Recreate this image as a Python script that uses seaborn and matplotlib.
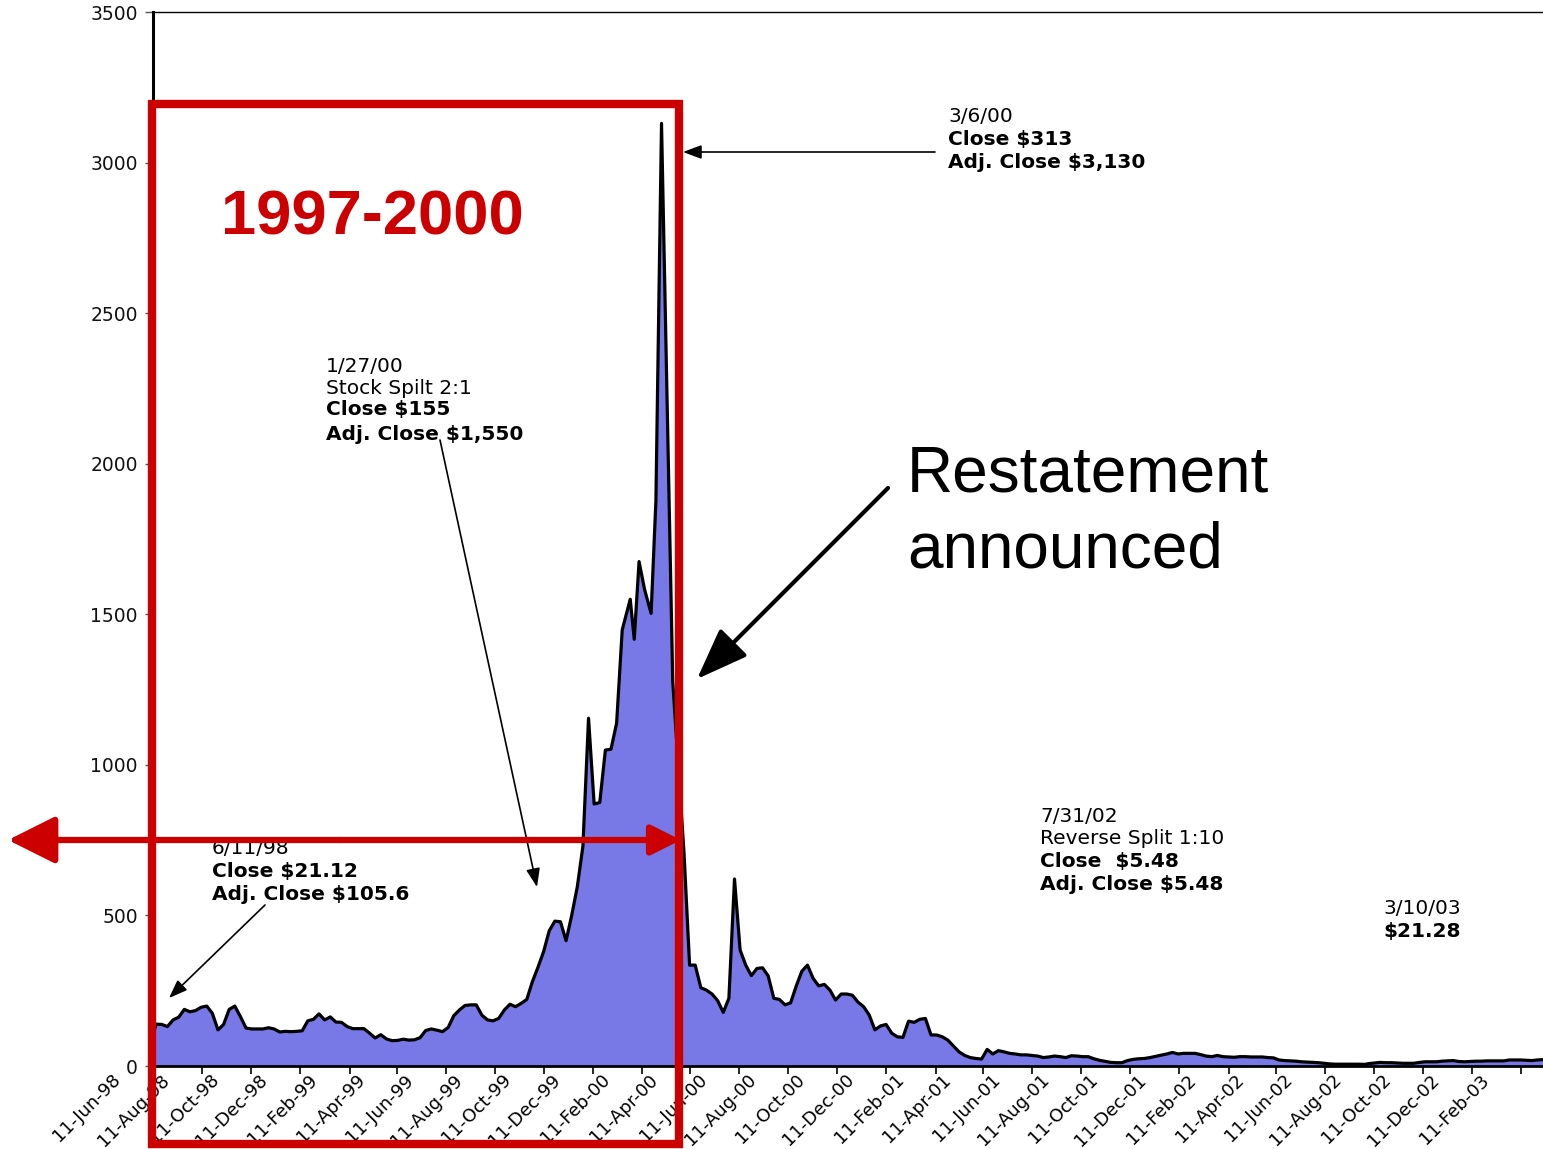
import matplotlib
matplotlib.use("Agg")
import matplotlib.pyplot as plt
import matplotlib.dates as mdates
import matplotlib.transforms as mtransforms
from matplotlib.patches import Rectangle
import pandas as pd
import seaborn as sns

# Weekly adjusted close (split-adjusted), June 1998 - March 2003
dates = [
    "1998-06-11", "1998-06-15", "1998-06-22", "1998-06-29", "1998-07-06", "1998-07-13",
    "1998-07-20", "1998-07-27", "1998-08-03", "1998-08-10", "1998-08-17", "1998-08-24",
    "1998-08-31", "1998-09-07", "1998-09-14", "1998-09-21", "1998-09-28", "1998-10-05",
    "1998-10-12", "1998-10-19", "1998-10-26", "1998-11-02", "1998-11-09", "1998-11-16",
    "1998-11-23", "1998-11-30", "1998-12-07", "1998-12-14", "1998-12-21", "1998-12-28",
    "1999-01-04", "1999-01-11", "1999-01-18", "1999-01-25", "1999-02-01", "1999-02-08",
    "1999-02-15", "1999-02-22", "1999-03-01", "1999-03-08", "1999-03-15", "1999-03-22",
    "1999-03-29", "1999-04-05", "1999-04-12", "1999-04-19", "1999-04-26", "1999-05-03",
    "1999-05-10", "1999-05-17", "1999-05-24", "1999-05-31", "1999-06-07", "1999-06-14",
    "1999-06-21", "1999-06-28", "1999-07-05", "1999-07-12", "1999-07-19", "1999-07-26",
    "1999-08-02", "1999-08-09", "1999-08-16", "1999-08-23", "1999-08-30", "1999-09-06",
    "1999-09-13", "1999-09-20", "1999-09-27", "1999-10-04", "1999-10-11", "1999-10-18",
    "1999-10-25", "1999-11-01", "1999-11-08", "1999-11-15", "1999-11-22", "1999-11-29",
    "1999-12-06", "1999-12-13", "1999-12-20", "1999-12-27", "2000-01-03", "2000-01-10",
    "2000-01-17", "2000-01-27", "2000-02-01", "2000-02-07", "2000-02-14", "2000-02-22",
    "2000-02-28", "2000-03-06", "2000-03-20", "2000-04-03", "2000-04-10", "2000-04-17",
    "2000-04-24", "2000-05-01", "2000-05-08", "2000-05-15", "2000-05-22", "2000-05-29",
    "2000-06-05", "2000-06-12", "2000-06-19", "2000-06-26", "2000-07-03", "2000-07-10",
    "2000-07-17", "2000-07-24", "2000-07-31", "2000-08-07", "2000-08-14", "2000-08-21",
    "2000-08-28", "2000-09-04", "2000-09-11", "2000-09-18", "2000-09-25", "2000-10-02",
    "2000-10-09", "2000-10-16", "2000-10-23", "2000-10-30", "2000-11-06", "2000-11-13",
    "2000-11-20", "2000-11-27", "2000-12-04", "2000-12-11", "2000-12-18", "2000-12-25",
    "2001-01-01", "2001-01-08", "2001-01-15", "2001-01-22", "2001-01-29", "2001-02-05",
    "2001-02-12", "2001-02-19", "2001-02-26", "2001-03-05", "2001-03-12", "2001-03-19",
    "2001-03-26", "2001-04-02", "2001-04-09", "2001-04-16", "2001-04-23", "2001-04-30",
    "2001-05-07", "2001-05-14", "2001-05-21", "2001-05-28", "2001-06-04", "2001-06-11",
    "2001-06-18", "2001-06-25", "2001-07-02", "2001-07-09", "2001-07-16", "2001-07-23",
    "2001-07-30", "2001-08-06", "2001-08-13", "2001-08-20", "2001-08-27", "2001-09-03",
    "2001-09-17", "2001-09-24", "2001-10-01", "2001-10-08", "2001-10-15", "2001-10-22",
    "2001-10-29", "2001-11-05", "2001-11-12", "2001-11-19", "2001-11-26", "2001-12-03",
    "2001-12-10", "2001-12-17", "2001-12-24", "2001-12-31", "2002-01-07", "2002-01-14",
    "2002-01-21", "2002-01-28", "2002-02-04", "2002-02-11", "2002-02-18", "2002-02-25",
    "2002-03-04", "2002-03-11", "2002-03-18", "2002-03-25", "2002-04-01", "2002-04-08",
    "2002-04-15", "2002-04-22", "2002-04-29", "2002-05-06", "2002-05-13", "2002-05-20",
    "2002-05-27", "2002-06-03", "2002-06-10", "2002-06-17", "2002-06-24", "2002-07-01",
    "2002-07-08", "2002-07-15", "2002-07-22", "2002-07-31", "2002-08-05", "2002-08-12",
    "2002-08-19", "2002-08-26", "2002-09-02", "2002-09-09", "2002-09-16", "2002-09-23",
    "2002-09-30", "2002-10-07", "2002-10-14", "2002-10-21", "2002-10-28", "2002-11-04",
    "2002-11-11", "2002-11-18", "2002-11-25", "2002-12-02", "2002-12-09", "2002-12-16",
    "2002-12-23", "2002-12-30", "2003-01-06", "2003-01-13", "2003-01-20", "2003-01-27",
    "2003-02-03", "2003-02-10", "2003-02-17", "2003-02-24", "2003-03-03", "2003-03-10",
]
adj_close = [
    105.6, 139, 138, 131, 153, 162,
    188, 180, 184, 195, 199, 175,
    120, 138, 188, 199, 164, 126,
    123, 123, 123, 127, 123, 113,
    115, 114, 115, 117, 150, 155,
    173, 153, 163, 146, 145, 131,
    124, 124, 124, 109, 93, 104,
    90, 84, 85, 89, 86, 87,
    94, 118, 123, 119, 114, 128,
    167, 186, 201, 203, 203, 169,
    153, 150, 158, 186, 205, 197,
    208, 221, 280, 328, 380, 449,
    481, 479, 416, 500, 595, 730,
    1155, 870, 875, 1049, 1052, 1138,
    1448, 1550, 1417, 1675, 1581, 1503,
    1876, 3130, 1276, 710, 335, 335,
    260, 252, 239, 217, 178, 225,
    621, 385, 335, 300, 324, 326,
    299, 225, 221, 203, 210, 266,
    315, 335, 291, 266, 271, 252,
    219, 239, 239, 235, 212, 197,
    169, 120, 133, 138, 109, 97,
    95, 149, 145, 155, 158, 103,
    103, 97, 86, 66, 47, 35,
    28, 25, 23, 55, 40, 51,
    47, 42, 40, 37, 37, 35,
    33, 28, 30, 33, 31, 28,
    34, 33, 31, 31, 24, 19,
    12, 11, 11, 18, 22, 24,
    25, 28, 32, 36, 40, 45,
    40, 42, 42, 42, 38, 33,
    31, 35, 31, 30, 29, 31,
    31, 30, 30, 30, 28, 27,
    20, 18, 17, 16, 14, 13,
    12, 11, 9, 7, 6, 6,
    6, 6, 6, 5.48, 8, 10,
    12, 11, 11, 10, 9, 9,
    9, 12, 14, 14, 14, 16,
    17, 18, 15, 14, 15, 16,
    16, 17, 17, 17, 17, 20,
    20, 20, 19, 18, 20, 21.28,
]

y_ticks = [0, 500, 1000, 1500, 2000, 2500, 3000, 3500]
tick_dates = pd.date_range("1998-06-01", "2003-02-01", freq="2MS") + pd.Timedelta(days=10)

df = pd.DataFrame({"date": pd.to_datetime(dates), "adj_close": adj_close})

sns.set_theme(style="white")
plt.rcParams["font.family"] = ["DejaVu Sans"]

W, H = 1543, 1149
fig = plt.figure(figsize=(W / 100, H / 100), dpi=100)
ax = fig.add_axes([153 / W, 1 - 1066 / H, 1 - 153 / W, (1066 - 12) / H])


def fx(x):
    return x / W


def fy(y):
    return 1 - y / H


fill_color = "#7878E6"
ax.fill_between(df["date"], df["adj_close"], 0, color=fill_color, lw=0, zorder=1)
sns.lineplot(data=df, x="date", y="adj_close", color="black", lw=2.3, ax=ax, zorder=2)

ax.set_xlim(df["date"].iloc[0], df["date"].iloc[-1])
ax.set_ylim(0, 3500)
ax.set_xlabel("")
ax.set_ylabel("")

ax.set_yticks(y_ticks)
ax.set_yticklabels([str(v) for v in y_ticks])
ax.set_xticks(tick_dates)
ax.xaxis.set_major_formatter(mdates.DateFormatter("%d-%b-%y"))

ax.tick_params(axis="y", which="major", left=True, length=6, width=1, color="#555555",
               pad=5, labelsize=13.5, labelcolor="#111111")
ax.tick_params(axis="x", which="major", bottom=True, length=6, width=1.2, color="black",
               pad=2, labelsize=13, labelcolor="black")

offset = mtransforms.ScaledTranslation(-0.35, 0, fig.dpi_scale_trans)
for lab in ax.get_xticklabels():
    lab.set_rotation(45)
    lab.set_ha("right")
    lab.set_va("center")
    lab.set_rotation_mode("anchor")
    lab.set_transform(lab.get_transform() + offset)

for side in ["left", "top", "bottom"]:
    ax.spines[side].set_visible(True)
    ax.spines[side].set_color("black")
ax.spines["left"].set_linewidth(2.2)
ax.spines["top"].set_linewidth(1.0)
ax.spines["bottom"].set_linewidth(2.0)
ax.spines["right"].set_visible(False)
ax.grid(False)

# Callout text blocks
reg = dict(fontsize=14.5, color="black", va="center", ha="left")
bold = dict(fontsize=14.5, color="black", va="center", ha="left", fontweight="bold")

fig.text(fx(948), fy(116), "3/6/00", **reg)
fig.text(fx(948), fy(139), "Close $313", **bold)
fig.text(fx(948), fy(162), "Adj. Close $3,130", **bold)

fig.text(fx(326), fy(366), "1/27/00", **reg)
fig.text(fx(326), fy(388), "Stock Spilt 2:1", **reg)
fig.text(fx(326), fy(410), "Close $155", **bold)
fig.text(fx(326), fy(434), "Adj. Close $1,550", **bold)

fig.text(fx(212), fy(849), "6/11/98", **reg)
fig.text(fx(212), fy(871), "Close $21.12", **bold)
fig.text(fx(212), fy(894), "Adj. Close $105.6", **bold)

fig.text(fx(1040), fy(817), "7/31/02", **reg)
fig.text(fx(1040), fy(839), "Reverse Split 1:10", **reg)
fig.text(fx(1040), fy(862), "Close  $5.48", **bold)
fig.text(fx(1040), fy(885), "Adj. Close $5.48", **bold)

fig.text(fx(1383), fy(908), "3/10/03", **reg)
fig.text(fx(1383), fy(931), "$21.28", **bold)

fig.text(fx(907), fy(475), "Restatement", fontsize=46, color="black", va="center",
         ha="left", family=["Liberation Sans", "DejaVu Sans"])
fig.text(fx(907), fy(551), "announced", fontsize=46, color="black", va="center",
         ha="left", family=["Liberation Sans", "DejaVu Sans"])

fig.text(fx(221), fy(218), "1997-2000", fontsize=45.5, color="#CC0000", va="center",
         ha="left", fontweight="bold", family=["Liberation Sans", "DejaVu Sans"])


def arrow(x0, y0, x1, y1, color="black", lw=1.2, style="-|>,head_length=0.8,head_width=0.3",
          scale=14):
    fig.add_artist(matplotlib.patches.FancyArrowPatch(
        (fx(x0), fy(y0)), (fx(x1), fy(y1)), transform=fig.transFigure,
        arrowstyle=style, mutation_scale=scale, color=color, lw=lw,
        shrinkA=0, shrinkB=0, zorder=10))


arrow(935, 152, 683, 152)
arrow(440, 440, 537, 887)
arrow(265, 905, 169, 998)
arrow(888, 488, 697, 679, lw=3.0, style="-|>,head_length=0.8,head_width=0.3", scale=40)

# Highlight box for 1997-2000
fig.add_artist(Rectangle((fx(152), fy(1144)), fx(679) - fx(152), fy(104) - fy(1144),
                         transform=fig.transFigure, fill=False, edgecolor="#CC0000",
                         lw=6, zorder=20))

# Horizontal red double arrow
arrow(340, 840, 8, 840, color="#CC0000", lw=4.5,
      style="-|>,head_length=2.9,head_width=1.45", scale=10)
arrow(340, 840, 681, 840, color="#CC0000", lw=4.5,
      style="-|>,head_length=1.8,head_width=0.9", scale=10)

fig.savefig("out.png", dpi=100, facecolor="white")
